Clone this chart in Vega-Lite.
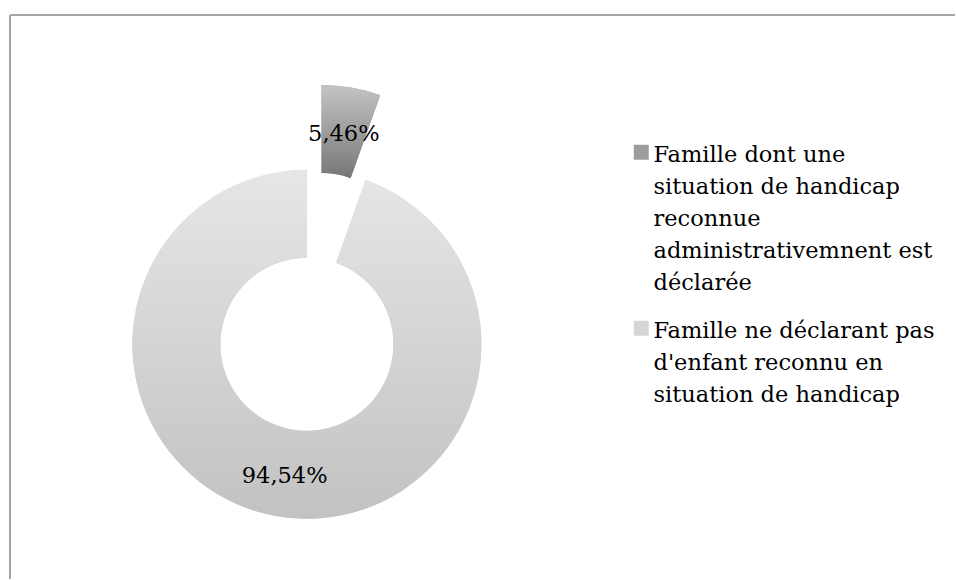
{
  "$schema": "https://vega.github.io/schema/vega-lite/v6.json",
  "width": 956,
  "height": 580,
  "autosize": {"type": "fit", "contains": "padding"},
  "padding": {"left": 9, "top": 14, "right": 0, "bottom": 0},
  "background": "white",
  "config": {
    "view": {"stroke": null},
    "style": {"guide-label": {"lineHeight": 32, "dy": -8.5}},
    "locale": {"number": {"decimal": ",", "thousands": " ", "grouping": [3], "currency": ["", " €"]}}
  },
  "data": {
    "values": [
      {"categorie": "Famille dont une situation de handicap reconnue administrativemnent est déclarée", "part": 0.0546},
      {"categorie": "Famille ne déclarant pas d'enfant reconnu en situation de handicap", "part": 0.9454}
    ]
  },
  "encoding": {
    "theta": {"field": "part", "type": "quantitative", "stack": true},
    "order": {"field": "part", "type": "quantitative", "sort": "ascending"}
  },
  "layer": [
    {
      "mark": {"type": "arc", "radius": 174.5, "radius2": 86.5, "x": {"expr": "width*0.3142"}, "y": {"expr": "height*0.5839"}},
      "encoding": {
        "color": {
          "field": "categorie",
          "type": "nominal",
          "scale": {
            "domain": ["Famille dont une situation de handicap reconnue administrativemnent est déclarée", "Famille ne déclarant pas d'enfant reconnu en situation de handicap"],
            "range": ["#9c9c9c", "#d6d6d6"]
          },
          "legend": {
            "orient": "none",
            "legendX": 620,
            "legendY": 126,
            "title": null,
            "symbolType": "square",
            "symbolSize": 225,
            "symbolStrokeWidth": 0,
            "labelFont": "DejaVu Serif",
            "labelFontSize": 22.5,
            "labelColor": "black",
            "labelLimit": 400,
            "labelOffset": 1,
            "rowPadding": 22,
            "labelBaseline": "top",
            "labelExpr": "indexof(datum.value, 'dont') > 0 ? ['Famille dont une', 'situation de handicap', 'reconnue', 'administrativemnent est', 'déclarée'] : ['Famille ne déclarant pas', \"d'enfant reconnu en\", 'situation de handicap']"
          }
        },
        "opacity": {"condition": {"test": "datum.part < 0.5", "value": 0}, "value": 1}
      }
    },
    {
      "mark": {"type": "arc", "radius": 174.5, "radius2": 86.5, "x": {"expr": "width*0.3142 + 14.6"}, "y": {"expr": "height*0.5839 - 84.7"}},
      "encoding": {
        "color": {"field": "categorie", "type": "nominal"},
        "opacity": {"condition": {"test": "datum.part > 0.5", "value": 0}, "value": 1}
      }
    },
    {
      "mark": {"type": "arc", "radius": 174.5, "radius2": 86.5, "x": {"expr": "width*0.3142"}, "y": {"expr": "height*0.5839"},
        "fill": {"gradient": "linear", "x1": 0, "y1": 0, "x2": 0, "y2": 1, "stops": [{"offset": 0, "color": "#e6e6e6"}, {"offset": 1, "color": "#c2c2c2"}]}},
      "encoding": {
        "opacity": {"condition": {"test": "datum.part < 0.5", "value": 0}, "value": 1}
      }
    },
    {
      "mark": {"type": "arc", "radius": 174.5, "radius2": 86.5, "x": {"expr": "width*0.3142 + 14.6"}, "y": {"expr": "height*0.5839 - 84.7"},
        "fill": {"gradient": "linear", "x1": 0, "y1": 0, "x2": 0, "y2": 1, "stops": [{"offset": 0, "color": "#c4c4c4"}, {"offset": 1, "color": "#777777"}]}},
      "encoding": {
        "opacity": {"condition": {"test": "datum.part > 0.5", "value": 0}, "value": 1}
      }
    },
    {
      "mark": {"type": "text", "radius": 130.5, "x": {"expr": "width*0.3142"}, "y": {"expr": "height*0.5839"}, "dy": 3.5, "font": "DejaVu Serif", "fontSize": 22.5, "color": "black", "align": "center", "baseline": "middle"},
      "encoding": {
        "text": {"field": "part", "type": "quantitative", "format": ".2%"},
        "opacity": {"condition": {"test": "datum.part < 0.5", "value": 0}, "value": 1}
      }
    },
    {
      "mark": {"type": "text", "radius": 130.5, "x": {"expr": "width*0.3142 + 14.6"}, "y": {"expr": "height*0.5839 - 84.7"}, "dy": 3, "font": "DejaVu Serif", "fontSize": 22.5, "color": "black", "align": "center", "baseline": "middle"},
      "encoding": {
        "text": {"field": "part", "type": "quantitative", "format": ".2%"},
        "opacity": {"condition": {"test": "datum.part > 0.5", "value": 0}, "value": 1}
      }
    },
    {
      "data": {"values": [{}]},
      "mark": {"type": "rule", "color": "#a6a6a6", "strokeWidth": 2},
      "encoding": {"x": {"value": 0}}
    },
    {
      "data": {"values": [{}]},
      "mark": {"type": "rule", "color": "#a6a6a6", "strokeWidth": 2},
      "encoding": {"y": {"value": 0}}
    }
  ]
}
